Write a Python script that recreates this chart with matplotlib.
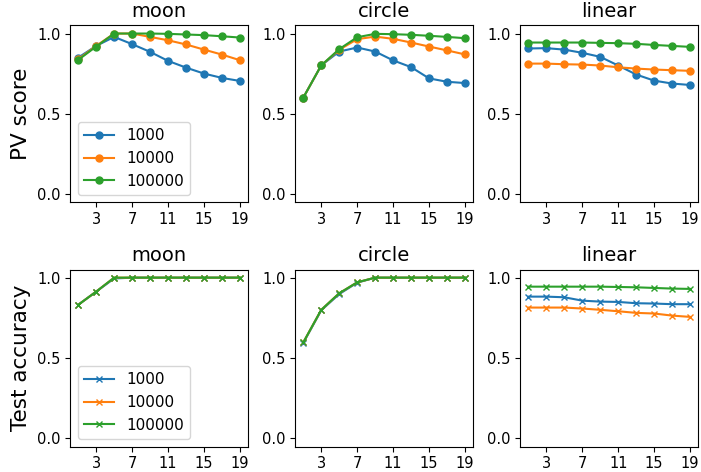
# Library imports
import matplotlib.pyplot as plt


# Data
n_points = [1, 3, 5, 7, 9, 11, 13, 15, 17, 19]
sample_sizes = ['1000', '10000', '100000']
datasets = ['moon', 'circle', 'linear']

# PV score, one list per sample size
pv_moon_1000 = [0.85, 0.923, 0.979, 0.934, 0.886, 0.830, 0.788, 0.751, 0.724, 0.705]
pv_moon_10000 = [0.84, 0.923, 1.0, 1.0, 0.979, 0.958, 0.932, 0.900, 0.869, 0.834]
pv_moon_100000 = [0.836, 0.919, 1.0, 1.0, 1.0, 0.998, 0.994, 0.990, 0.983, 0.975]

pv_circle_1000 = [0.601, 0.802, 0.888, 0.913, 0.888, 0.833, 0.791, 0.721, 0.700, 0.692]
pv_circle_10000 = [0.601, 0.802, 0.899, 0.965, 0.981, 0.967, 0.944, 0.919, 0.895, 0.870]
pv_circle_100000 = [0.601, 0.802, 0.903, 0.977, 0.998, 0.996, 0.992, 0.986, 0.979, 0.971]

pv_linear_1000 = [0.907, 0.909, 0.900, 0.880, 0.855, 0.801, 0.745, 0.707, 0.689, 0.680]
pv_linear_10000 = [0.813, 0.813, 0.809, 0.807, 0.801, 0.790, 0.782, 0.776, 0.772, 0.768]
pv_linear_100000 = [0.944, 0.944, 0.944, 0.944, 0.942, 0.940, 0.936, 0.929, 0.923, 0.917]

# Test accuracy, one list per sample size
acc_moon_1000 = [0.831, 0.913, 0.995, 1.0, 1.0, 1.0, 1.0, 1.0, 1.0, 1.0]
acc_moon_10000 = [0.831, 0.913, 1.0, 1.0, 1.0, 1.0, 1.0, 1.0, 1.0, 1.0]
acc_moon_100000 = [0.831, 0.913, 1.0, 1.0, 1.0, 1.0, 1.0, 1.0, 1.0, 1.0]

acc_circle_1000 = [0.594, 0.797, 0.898, 0.969, 1.0, 1.0, 1.0, 1.0, 1.0, 1.0]
acc_circle_10000 = [0.597, 0.800, 0.903, 0.971, 1.0, 1.0, 1.0, 1.0, 1.0, 1.0]
acc_circle_100000 = [0.597, 0.800, 0.903, 0.971, 1.0, 1.0, 1.0, 1.0, 1.0, 1.0]

acc_linear_1000 = [0.882, 0.882, 0.878, 0.857, 0.851, 0.849, 0.841, 0.839, 0.835, 0.835]
acc_linear_10000 = [0.814, 0.814, 0.814, 0.808, 0.800, 0.791, 0.781, 0.777, 0.764, 0.756]
acc_linear_100000 = [0.944, 0.944, 0.944, 0.944, 0.944, 0.942, 0.940, 0.936, 0.932, 0.930]

pv_scores = {
    'moon': [pv_moon_1000, pv_moon_10000, pv_moon_100000],
    'circle': [pv_circle_1000, pv_circle_10000, pv_circle_100000],
    'linear': [pv_linear_1000, pv_linear_10000, pv_linear_100000],
}
test_accs = {
    'moon': [acc_moon_1000, acc_moon_10000, acc_moon_100000],
    'circle': [acc_circle_1000, acc_circle_10000, acc_circle_100000],
    'linear': [acc_linear_1000, acc_linear_10000, acc_linear_100000],
}


# Functions
def draw_row(axes, scores, marker, y_label):
    for col_id, dataset in enumerate(datasets):
        ax = axes[col_id]
        for size_id, size in enumerate(sample_sizes):
            ax.plot(n_points, scores[dataset][size_id], marker=marker,
                    markersize=5, label=size)
        ax.set_title(dataset, fontsize=14)
        ax.set_ylim(-0.05, 1.05)
        ax.set_yticks([0.0, 0.5, 1.0])
        ax.set_xticks([3, 7, 11, 15, 19])
        ax.tick_params(labelsize=10.5)
    axes[0].set_ylabel(y_label, fontsize=15.5)
    axes[0].legend(loc='lower left', fontsize=11)


fig, axs = plt.subplots(2, 3, figsize=(7.01, 4.72), dpi=100)
draw_row(axs[0], pv_scores, 'o', 'PV score')
draw_row(axs[1], test_accs, 'x', 'Test accuracy')
fig.subplots_adjust(left=0.1, right=0.996, top=0.946, bottom=0.054,
                    hspace=0.38, wspace=0.265)
fig.savefig('out.png')
